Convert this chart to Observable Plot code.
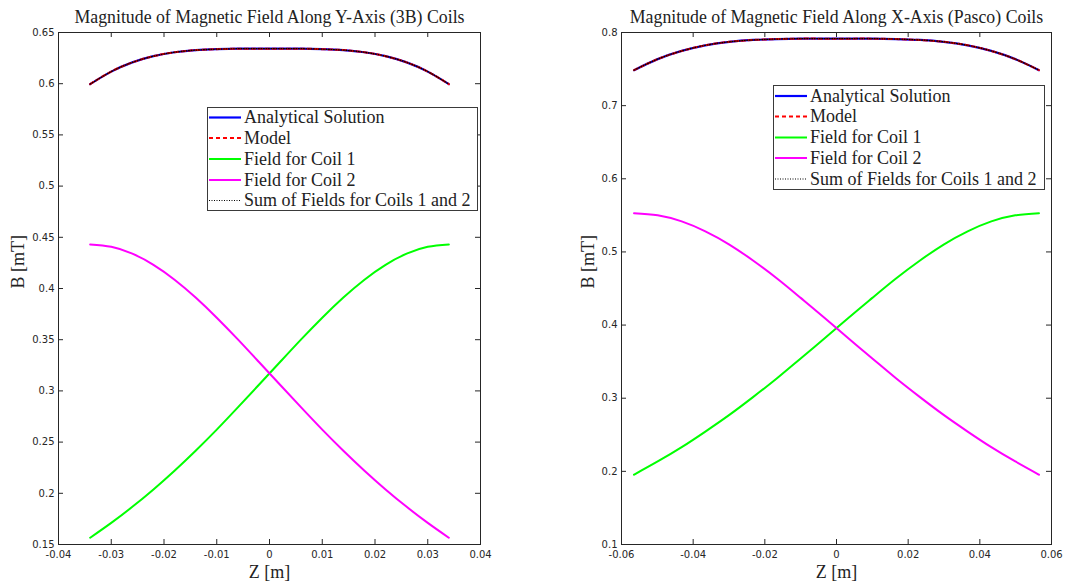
<!DOCTYPE html>
<html><head><meta charset="utf-8">
<script src="https://cdn.jsdelivr.net/npm/d3@7"></script>
<script src="https://cdn.jsdelivr.net/npm/@observablehq/plot@0.6"></script>
<style>
body{margin:0;background:#fff;}
#wrap{position:relative;width:1070px;height:583px;overflow:hidden;}
.panel{position:absolute;top:0;}
.legend{position:absolute;}
</style></head><body><div id="wrap"></div>
<script>
// ---------- Left panel: Y-Axis (3B) coils ----------
const leftTitle = "Magnitude of Magnetic Field Along Y-Axis (3B) Coils";
const leftZ = [-0.034,-0.030,-0.026,-0.022,-0.018,-0.014,-0.010,-0.006,-0.002,0.002,0.006,0.010,0.014,0.018,0.022,0.026,0.030,0.034];
const leftCoil1 = [0.1566,0.1711,0.1868,0.2038,0.2221,0.2416,0.2622,0.2839,0.3060,0.3282,0.3503,0.3715,0.3912,0.4086,0.4231,0.4340,0.4407,0.4430];
const leftCoil2 = [0.4430,0.4407,0.4340,0.4231,0.4086,0.3912,0.3715,0.3503,0.3282,0.3060,0.2839,0.2622,0.2416,0.2221,0.2038,0.1868,0.1711,0.1566];
const leftSum = [0.5996,0.6118,0.6208,0.6269,0.6307,0.6328,0.6337,0.6342,0.6342,0.6342,0.6342,0.6337,0.6328,0.6307,0.6269,0.6208,0.6118,0.5996];
const leftAnalytical = [0.5996,0.6118,0.6208,0.6269,0.6307,0.6328,0.6337,0.6342,0.6342,0.6342,0.6342,0.6337,0.6328,0.6307,0.6269,0.6208,0.6118,0.5996];
const leftModel = [0.5996,0.6118,0.6208,0.6269,0.6307,0.6328,0.6337,0.6342,0.6342,0.6342,0.6342,0.6337,0.6328,0.6307,0.6269,0.6208,0.6118,0.5996];
const leftXTicks = [-0.04,-0.03,-0.02,-0.01,0,0.01,0.02,0.03,0.04];
const leftYTicks = [0.15,0.2,0.25,0.3,0.35,0.4,0.45,0.5,0.55,0.6,0.65];

// ---------- Right panel: X-Axis (Pasco) coils ----------
const rightTitle = "Magnitude of Magnetic Field Along X-Axis (Pasco) Coils";
const rightZ = [-0.0565,-0.0499,-0.0432,-0.0366,-0.0299,-0.0233,-0.0166,-0.0100,-0.0033,0.0033,0.0100,0.0166,0.0233,0.0299,0.0366,0.0432,0.0499,0.0565];
const rightCoil1 = [0.1955,0.2135,0.2331,0.2544,0.2772,0.3015,0.3273,0.3544,0.3819,0.4097,0.4372,0.4637,0.4883,0.5101,0.5281,0.5417,0.5501,0.5530];
const rightCoil2 = [0.5530,0.5501,0.5417,0.5281,0.5101,0.4883,0.4637,0.4372,0.4097,0.3819,0.3544,0.3273,0.3015,0.2772,0.2544,0.2331,0.2135,0.1955];
const rightSum = [0.7485,0.7636,0.7748,0.7825,0.7873,0.7898,0.7910,0.7916,0.7916,0.7916,0.7916,0.7910,0.7898,0.7873,0.7825,0.7748,0.7636,0.7485];
const rightAnalytical = [0.7485,0.7636,0.7748,0.7825,0.7873,0.7898,0.7910,0.7916,0.7916,0.7916,0.7916,0.7910,0.7898,0.7873,0.7825,0.7748,0.7636,0.7485];
const rightModel = [0.7485,0.7636,0.7748,0.7825,0.7873,0.7898,0.7910,0.7916,0.7916,0.7916,0.7916,0.7910,0.7898,0.7873,0.7825,0.7748,0.7636,0.7485];
const rightXTicks = [-0.06,-0.04,-0.02,0,0.02,0.04,0.06];
const rightYTicks = [0.1,0.2,0.3,0.4,0.5,0.6,0.7,0.8];

const legendLabels = ["Analytical Solution","Model","Field for Coil 1","Field for Coil 2","Sum of Fields for Coils 1 and 2"];
const xLabel = "Z [m]";
const yLabel = "B [mT]";

const series = [
  {stroke:"#0000ff", strokeWidth:2.2, dash:null},
  {stroke:"#ff0000", strokeWidth:2, dash:"4,3"},
  {stroke:"#00ff00", strokeWidth:2, dash:null},
  {stroke:"#ff00ff", strokeWidth:2, dash:null},
  {stroke:"#000000", strokeWidth:1.2, dash:"1,1.5"}
];

const W = 535, H = 583, MT = 32, MB = 39;
const serif = "'Liberation Serif', 'Times New Roman', serif";
const axisColor = "#262626";
const fmt = d => String(d);

function panel({title, z, ys, xDomain, yDomain, xTicks, yTicks, ml, mr, left, yLabelDx, legend}) {
  const innerH = H - MT - MB, innerW = W - ml - mr;
  const lineMarks = ys.map((arr, k) => Plot.line(z.map((v,i)=>({z:v, B:arr[i]})), {
    x:"z", y:"B", stroke: series[k].stroke, strokeWidth: series[k].strokeWidth,
    strokeDasharray: series[k].dash, curve:"natural"
  }));
  const chart = Plot.plot({
    width: W, height: H, marginTop: MT, marginBottom: MB, marginLeft: ml, marginRight: mr,
    style: {fontFamily: "'DejaVu Sans', sans-serif", fontSize: "10px", color: axisColor, background:"#fff", overflow:"visible"},
    x: {domain: xDomain}, y: {domain: yDomain},
    marks: [
      ...lineMarks,
      Plot.frame({stroke: axisColor, strokeWidth: 1}),
      Plot.tickX(xTicks, {x: d=>d, insetTop: innerH - 5, stroke: axisColor}),
      Plot.tickX(xTicks, {x: d=>d, insetBottom: innerH - 5, stroke: axisColor}),
      Plot.tickY(yTicks, {y: d=>d, insetRight: innerW - 5, stroke: axisColor}),
      Plot.tickY(yTicks, {y: d=>d, insetLeft: innerW - 5, stroke: axisColor}),
      Plot.axisX(xTicks, {anchor:"bottom", tickSize:0, tickPadding:6, tickFormat: fmt, label:null, color: axisColor}),
      Plot.axisY(yTicks, {anchor:"left", tickSize:0, tickPadding:4, tickFormat: fmt, label:null, color: axisColor}),
      Plot.text([title], {text: d=>d, frameAnchor:"top", dy:-15, lineAnchor:"middle", fontFamily: serif, fontSize: 17.8, fill:"#222"}),
      Plot.text([xLabel], {text: d=>d, frameAnchor:"bottom", dy:28, lineAnchor:"middle", fontFamily: serif, fontSize: 18, fill:"#222"}),
      Plot.text([yLabel], {text: d=>d, frameAnchor:"left", dx:yLabelDx, rotate:-90, lineAnchor:"middle", fontFamily: serif, fontSize: 18, fill:"#222"})
    ]
  });
  chart.classList.add("panel");
  chart.style.left = left + "px";
  document.getElementById("wrap").appendChild(chart);

  const {x, y, w, h, rowY} = legend;
  const svg = d3.select("#wrap").append("svg").attr("class","legend")
    .style("left", x + "px").style("top", y + "px")
    .attr("width", w).attr("height", h);
  svg.append("rect").attr("x",0.5).attr("y",0.5).attr("width",w-1).attr("height",h-1)
    .attr("fill","#fff").attr("stroke","#3a3a3a").attr("stroke-width",1);
  legendLabels.forEach((lab, k) => {
    const yy = rowY[k];
    svg.append("line").attr("x1",2).attr("x2",34).attr("y1",yy).attr("y2",yy)
      .attr("stroke", series[k].stroke).attr("stroke-width", series[k].strokeWidth)
      .attr("stroke-dasharray", series[k].dash);
    svg.append("text").attr("x",37).attr("y",yy).attr("dy","0.32em")
      .attr("font-family", serif).attr("font-size", 18).attr("fill","#222").text(lab);
  });
}

panel({title: leftTitle, z: leftZ, ys: [leftAnalytical, leftModel, leftCoil1, leftCoil2, leftSum],
  xDomain: [-0.04, 0.04], yDomain: [0.15, 0.65], xTicks: leftXTicks, yTicks: leftYTicks,
  ml: 58, mr: 55, left: 0, yLabelDx: -40,
  legend: {x: 207, y: 107, w: 271, h: 104, rowY: [10.5, 31, 52, 73, 93.5]}});

panel({title: rightTitle, z: rightZ, ys: [rightAnalytical, rightModel, rightCoil1, rightCoil2, rightSum],
  xDomain: [-0.06, 0.06], yDomain: [0.1, 0.8], xTicks: rightXTicks, yTicks: rightYTicks,
  ml: 86, mr: 19, left: 535, yLabelDx: -33,
  legend: {x: 773, y: 85, w: 272, h: 105, rowY: [11, 31.5, 52.5, 73, 94]}});
</script>
</body></html>
